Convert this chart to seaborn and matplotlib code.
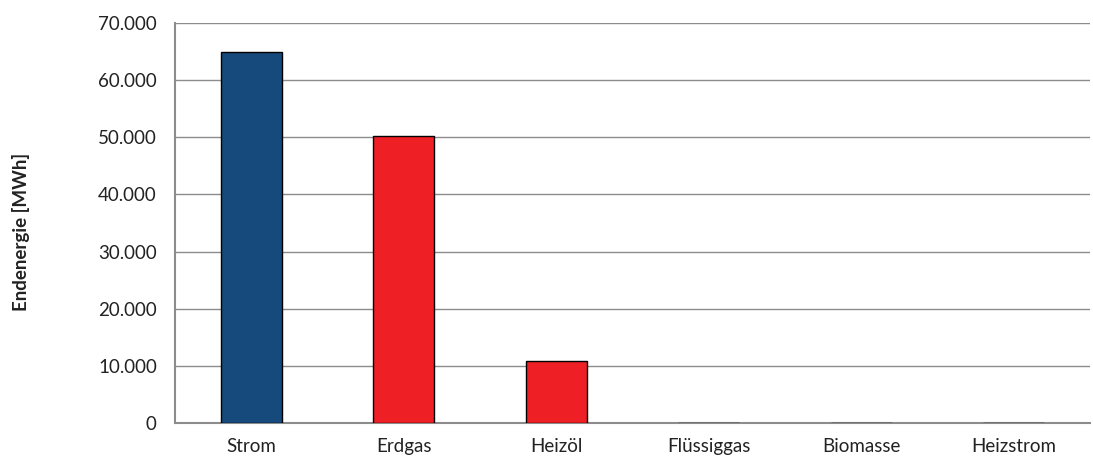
import matplotlib
matplotlib.use("Agg")
import matplotlib.pyplot as plt
import matplotlib.ticker as mticker
import seaborn as sns
import pandas as pd

# Data
CATEGORIES = ["Strom", "Erdgas", "Heizöl", "Flüssiggas", "Biomasse", "Heizstrom"]
VALUES = [65000, 50200, 10800, 0, 0, 0]
COLORS = ["#174A7C", "#EE1F25", "#EE1F25", "#EE1F25", "#EE1F25", "#EE1F25"]

sns.set_style("white")
plt.rcParams['font.family'] = ['Lato', 'DejaVu Sans']

df = pd.DataFrame({'cat': CATEGORIES, 'val': VALUES})

fig = plt.figure(figsize=(10.93, 4.63), dpi=100)
ax = fig.add_axes([0.160, 0.0864, 0.837, 0.864])

sns.barplot(data=df, x='cat', y='val', hue='cat', palette=COLORS, legend=False,
            saturation=1, width=0.4, edgecolor='black', linewidth=1, ax=ax, zorder=3)

ax.set_ylim(0, 70000)
ax.set_xlim(-0.5, len(CATEGORIES) - 0.5)
ax.yaxis.set_major_locator(mticker.MultipleLocator(10000))
ax.yaxis.set_major_formatter(mticker.FuncFormatter(lambda v, p: f"{int(v):,}".replace(",", ".")))
ax.grid(axis='y', color='#8c8c8c', linewidth=1, zorder=0)
ax.set_axisbelow(True)

for s in ['top', 'right']:
    ax.spines[s].set_visible(False)
for s in ['left', 'bottom']:
    ax.spines[s].set_color('#8c8c8c')
    ax.spines[s].set_linewidth(1.5)

# x ticks at category boundaries, labels centered
ax.set_xticks([i - 0.5 for i in range(len(CATEGORIES) + 1)])
ax.set_xticklabels([])
ax.set_xticks(range(len(CATEGORIES)), minor=True)
ax.set_xticklabels(CATEGORIES, minor=True)
ax.tick_params(axis='x', which='major', length=6, color='#8c8c8c', width=1)
ax.tick_params(axis='x', which='minor', length=0, pad=11, labelsize=13.5, labelcolor='#222222')
ax.tick_params(axis='y', length=8, color='#8c8c8c', width=1, labelsize=13.5, labelcolor='#222222', pad=5)

ax.set_xlabel("")
ax.set_ylabel("Endenergie [MWh]", fontsize=13.5, fontweight='bold', color='#222222')
ax.yaxis.set_label_coords(-0.158, 0.478)

fig.savefig("out.png", dpi=100)
